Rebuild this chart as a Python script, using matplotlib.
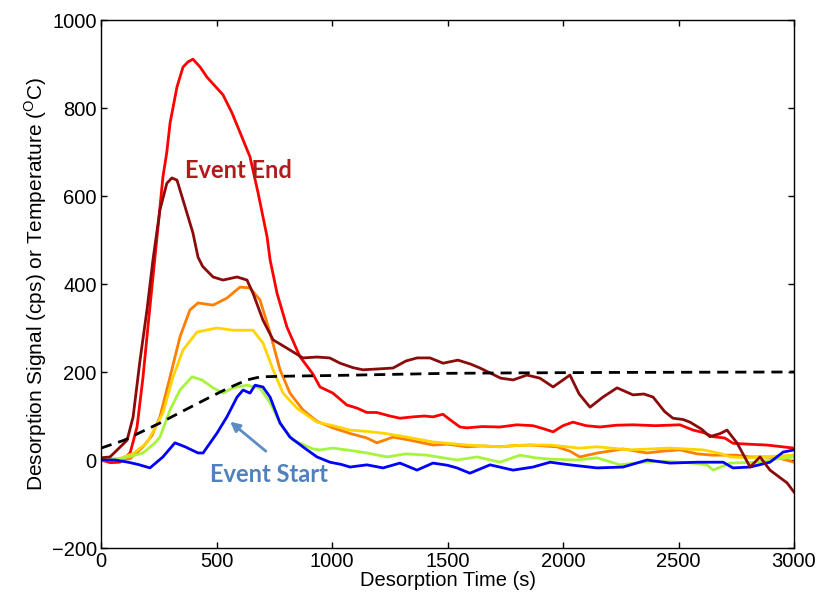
import matplotlib
matplotlib.use("Agg")
import matplotlib.pyplot as plt

plt.rcParams['font.family'] = ['Liberation Sans', 'DejaVu Sans']
plt.rcParams['mathtext.fontset'] = 'custom'
plt.rcParams['mathtext.rm'] = 'Liberation Sans'

# ---- data ----
red_x = [0, 40, 82, 126, 156, 182, 203, 225, 247, 268, 285, 299, 329, 355, 377, 398, 429, 459, 490, 528,
         567, 610, 645, 680, 719, 732, 753, 762, 805, 861, 918, 948, 1004, 1064, 1108, 1151, 1194, 1250, 1294,
         1350, 1400, 1437, 1480, 1520, 1554, 1584, 1650, 1727, 1800, 1870, 1910, 1957, 2000, 2043, 2100,
         2160, 2230, 2303, 2400, 2506, 2563, 2610, 2649, 2700, 2736, 2800, 2883, 2950, 3000]
red_y = [0, -6, -5, 16, 75, 189, 302, 416, 530, 643, 700, 766, 848, 893, 905, 911, 893, 870, 852, 830,
         789, 734, 689, 607, 507, 455, 402, 379, 302, 235, 195, 166, 152, 125, 118, 108, 108, 100, 95,
         98, 100, 98, 104, 88, 75, 73, 76, 75, 80, 78, 72, 64, 78, 86, 78,
         75, 79, 80, 78, 80, 68, 62, 53, 50, 38, 36, 34, 30, 27]

dark_x = [0, 39, 80, 113, 139, 169, 199, 225, 255, 285, 307, 329, 355, 398, 420, 440, 485, 528, 589, 632,
          658, 701, 745, 780, 818, 874, 935, 990, 1035, 1090, 1134, 1200, 1264, 1320, 1368, 1424, 1481,
          1545, 1600, 1641, 1684, 1730, 1784, 1844, 1900, 1957, 2030, 2070, 2117, 2173, 2234, 2303, 2350,
          2390, 2440, 2476, 2520, 2550, 2600, 2636, 2680, 2710, 2753, 2810, 2853, 2896, 2970, 3000]
dark_y = [5, 7, 28, 45, 98, 227, 341, 455, 568, 629, 641, 636, 591, 516, 461, 440, 416, 409, 416, 409,
          379, 318, 273, 262, 250, 232, 234, 232, 220, 210, 205, 207, 209, 225, 232, 232, 220,
          227, 218, 209, 198, 186, 182, 193, 186, 166, 193, 150, 120, 143, 164, 148, 150,
          143, 110, 95, 92, 86, 70, 53, 60, 68, 39, -16, 7, -23, -52, -73]

orange_x = [0, 60, 126, 182, 220, 255, 299, 342, 385, 420, 485, 545, 602, 645, 688, 732, 775, 818, 874,
            935, 1004, 1080, 1151, 1194, 1264, 1338, 1437, 1500, 1584, 1650, 1727, 1800, 1857, 1974,
            2030, 2073, 2150, 2260, 2364, 2430, 2506, 2580, 2649, 2753, 2810, 2866, 2930, 3000]
orange_y = [0, 0, 3, 30, 55, 98, 189, 280, 341, 357, 352, 368, 393, 391, 364, 289, 205, 152, 114,
            88, 73, 60, 50, 39, 52, 45, 34, 36, 30, 32, 30, 33, 34, 30,
            20, 7, 16, 25, 16, 20, 23, 14, 11, 11, 7, 7, 5, -5]

yellow_x = [0, 80, 140, 199, 268, 312, 355, 416, 502, 571, 658, 701, 745, 788, 848, 935, 1004, 1078,
            1150, 1221, 1325, 1437, 1500, 1584, 1650, 1727, 1800, 1870, 1944, 2073, 2147, 2290, 2463,
            2606, 2680, 2723, 2810, 2926, 3000]
yellow_y = [0, 3, 15, 39, 107, 189, 250, 291, 300, 295, 295, 266, 205, 152, 118, 86, 78, 68,
            65, 61, 52, 41, 38, 34, 32, 30, 33, 34, 34, 27, 30, 23, 27,
            23, 15, 7, 5, 9, 11]

green_x = [0, 80, 147, 182, 234, 255, 299, 342, 394, 437, 485, 528, 571, 632, 688, 732, 775, 831, 918,
           948, 1004, 1078, 1151, 1238, 1320, 1411, 1480, 1541, 1628, 1727, 1814, 1880, 1944, 2061,
           2147, 2247, 2346, 2430, 2506, 2580, 2623, 2650, 2723, 2840, 2920, 3000]
green_y = [2, 3, 11, 16, 39, 52, 114, 159, 189, 182, 164, 152, 164, 170, 164, 130, 84, 45, 25,
           23, 27, 22, 16, 7, 14, 11, 5, 0, 7, -5, 11, 5, 2, 0,
           5, -11, -5, -3, -5, -8, -11, -23, -7, -5, 2, 7]

blue_x = [0, 60, 117, 160, 212, 268, 320, 364, 420, 442, 502, 545, 589, 615, 645, 667, 701, 732, 775,
          818, 892, 935, 991, 1040, 1078, 1151, 1221, 1294, 1368, 1437, 1500, 1541, 1597, 1684, 1784,
          1870, 1944, 2030, 2147, 2260, 2364, 2463, 2580, 2693, 2736, 2810, 2896, 2953, 3000]
blue_y = [0, 0, -5, -10, -18, 7, 39, 30, 16, 16, 61, 98, 143, 159, 152, 170, 166, 143, 84,
          52, 23, 7, -5, -10, -16, -11, -18, -7, -23, -7, -12, -18, -30, -11, -23,
          -16, -5, -11, -18, -16, 0, -7, -5, -5, -18, -16, -5, 18, 23]

temp_x = [0, 100, 255, 350, 450, 545, 632, 690, 760, 860, 1000, 1200, 1500, 1800, 2200, 3000]
temp_y = [27, 45, 84, 110, 137, 162, 182, 189, 190, 191, 192, 194, 197, 198, 199, 200]

xticks = [0, 500, 1000, 1500, 2000, 2500, 3000]
yticks = [-200, 0, 200, 400, 600, 800, 1000]

# ---- figure ----
fig = plt.figure(figsize=(8.21, 5.99), dpi=100)
ax = fig.add_axes([101/821, 1-548/599, (794-101)/821, (548-20)/599])

lw = 2.0
ax.plot(red_x, red_y, color='#ff0000', lw=lw)
ax.plot(orange_x, orange_y, color='#ff7f00', lw=lw)
ax.plot(yellow_x, yellow_y, color='#ffd400', lw=lw)
ax.plot(green_x, green_y, color='#a6f53c', lw=lw)
ax.plot(blue_x, blue_y, color='#0000ff', lw=lw)
ax.plot(dark_x, dark_y, color='#8b0a0a', lw=lw)
ax.plot(temp_x, temp_y, color='black', lw=2.0, ls=(0, (4, 2.5)))

ax.set_xlim(0, 3000)
ax.set_ylim(-200, 1000)
ax.set_xticks(xticks)
ax.set_yticks(yticks)
ax.tick_params(direction='in', top=True, right=True, labelsize=14.5, length=4, width=1)
ax.tick_params(axis='x', pad=3)
ax.tick_params(axis='y', pad=3)
for s in ax.spines.values():
    s.set_linewidth(1.0)

ax.set_xlabel('Desorption Time (s)', fontsize=14.5, labelpad=0)
ax.set_ylabel(r'Desorption Signal (cps) or Temperature ($^{\mathrm{O}}$C)', fontsize=15, labelpad=2)

ax.text(597, 659, 'Event End', color='#b01c1c', fontsize=17, fontweight='bold',
        family=['Lato', 'DejaVu Sans'], ha='center', va='center')
ax.text(727, -34, 'Event Start', color='#4f81bd', fontsize=17, fontweight='bold',
        family=['Lato', 'DejaVu Sans'], ha='center', va='center')
ax.annotate('', xy=(550, 91), xytext=(723, 16),
            arrowprops=dict(arrowstyle='-|>', color='#5b8cc4', lw=2, mutation_scale=14))

fig.savefig('out.png', dpi=100)
